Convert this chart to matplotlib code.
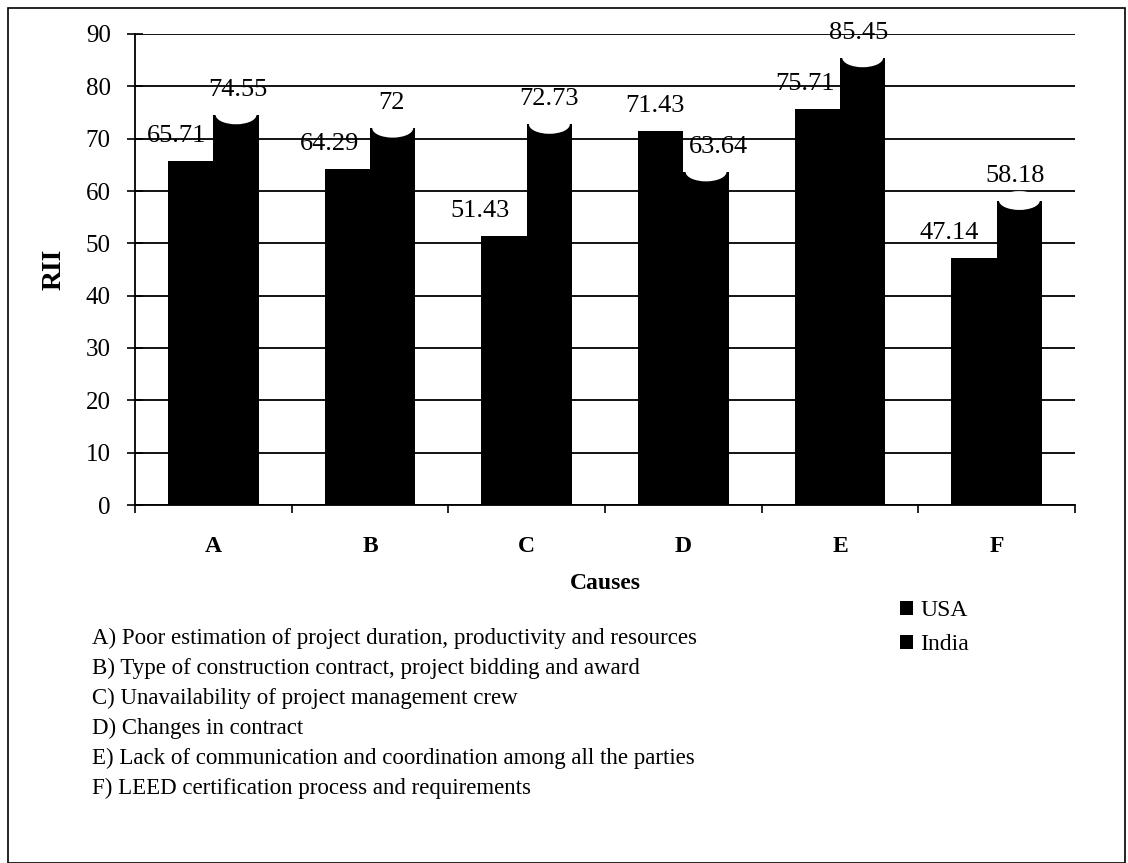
import numpy as np
import matplotlib.pyplot as plt
from matplotlib.patches import Rectangle, Ellipse

plt.rcParams['font.family'] = ['Liberation Serif', 'DejaVu Serif']

causes = ['A', 'B', 'C', 'D', 'E', 'F']
usa = [65.71, 64.29, 51.43, 71.43, 75.71, 47.14]
india = [74.55, 72, 72.73, 63.64, 85.45, 58.18]
cause_text = [
    'A) Poor estimation of project duration, productivity and resources',
    'B) Type of construction contract, project bidding and award',
    'C) Unavailability of project management crew',
    'D) Changes in contract',
    'E) Lack of communication and coordination among all the parties',
    'F) LEED certification process and requirements',
]

# label nudges (points) to mimic the spreadsheet's placement
usa_dx = [-10, -13, -17, -4, -9, -18]
india_dx = [1, -1, 0, 9, -3, -3]

fig = plt.figure(figsize=(11.28, 8.63), dpi=100)
W, H = 1128, 863
ax = fig.add_axes([135 / W, 1 - 505 / H, 940 / W, 471 / H])

x = np.arange(len(causes))
w = 0.29
b1 = ax.bar(x - w / 2, usa, w, color='black', label='USA', zorder=3)
b2 = ax.bar(x + w / 2, india, w, color='black', label='India', zorder=3)

# cylinder-like cap on the India bars
for xi, v in zip(x, india):
    ax.add_patch(Ellipse((xi + w / 2, v), w * 0.9, 3.6, facecolor='white',
                         edgecolor='none', zorder=4))

for xi, v, dx in zip(x, usa, usa_dx):
    ax.annotate(f'{v:g}', (xi - w / 2, v), xytext=(dx, 18), textcoords='offset points',
                ha='center', va='center', fontsize=19)
for xi, v, dx in zip(x, india, india_dx):
    ax.annotate(f'{v:g}', (xi + w / 2, v), xytext=(dx, 18), textcoords='offset points',
                ha='center', va='center', fontsize=19)

ax.set_xlim(-0.5, len(causes) - 0.5)
ax.set_ylim(0, 90)
ax.set_yticks(range(0, 91, 10))
ax.set_xticks(x)
ax.set_xticklabels(causes, fontsize=17, fontweight='bold')
ax.tick_params(axis='x', length=0, pad=22)
ax.set_xticks(np.arange(-0.5, len(causes), 1), minor=True)
ax.tick_params(axis='x', which='minor', length=6, width=1.2, direction='out')
ax.tick_params(axis='y', direction='inout', length=11, width=1.2, labelsize=18, pad=12)
ax.yaxis.grid(True, color='black', linewidth=1.3, zorder=0)
ax.set_axisbelow(True)
for s in ['top', 'right']:
    ax.spines[s].set_visible(False)
ax.spines['left'].set_linewidth(1.3)
ax.spines['bottom'].set_linewidth(1.3)

ax.set_ylabel('RII', fontsize=20, fontweight='bold', labelpad=14)
ax.set_xlabel('Causes', fontsize=17, fontweight='bold', labelpad=12)

fig.legend(handles=[b1, b2], labels=['USA', 'India'], loc='upper left',
           bbox_to_anchor=(900 / W, 1 - 600 / H), frameon=False, fontsize=17,
           handlelength=0.55, handleheight=0.55, handletextpad=0.3, labelspacing=0.55,
           borderpad=0, borderaxespad=0)

for i, line in enumerate(cause_text):
    fig.text(92 / W, 1 - (638 + i * 30) / H, line, fontsize=16.5, va='center', ha='left')

fig.add_artist(Rectangle((8 / W, 0.0), 1 - 11 / W, 1 - 8 / H,
                         transform=fig.transFigure, fill=False, edgecolor='black', linewidth=1.2))

fig.savefig('out.png', dpi=100)
